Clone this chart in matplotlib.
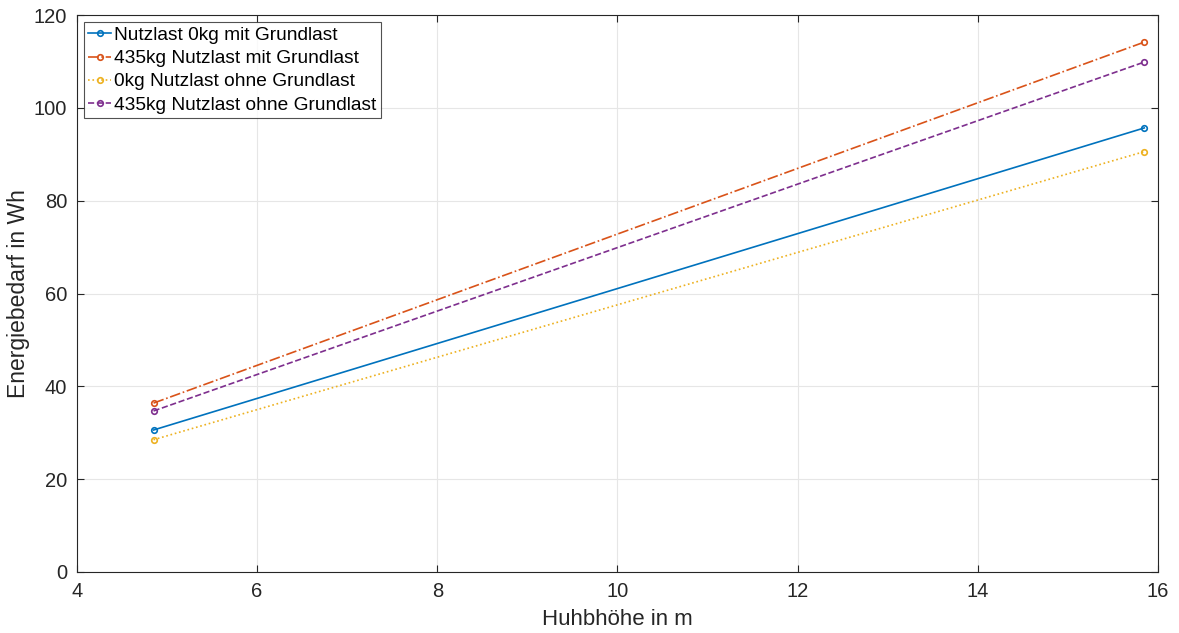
import numpy as np
import matplotlib.pyplot as plt

plt.rcParams['font.family'] = ['Liberation Sans', 'DejaVu Sans']

hoehe = [4.85, 15.85]
leer_mit = [30.6, 95.7]
voll_mit = [36.4, 114.2]
leer_ohne = [28.5, 90.6]
voll_ohne = [34.7, 109.9]

labels = ["Nutzlast 0kg mit Grundlast", "435kg Nutzlast mit Grundlast",
          "0kg Nutzlast ohne Grundlast", "435kg Nutzlast ohne Grundlast"]
colors = ["#0072BD", "#D95319", "#EDB120", "#7E2F8E"]
styles = ["-", "-.", ":", "--"]

fig = plt.figure(figsize=(11.79, 6.33), dpi=100)
ax = fig.add_axes([0.0653, 0.0964, 0.9167, 0.8796])

for y, lab, c, ls in zip([leer_mit, voll_mit, leer_ohne, voll_ohne], labels, colors, styles):
    ax.plot(hoehe, y, color=c, linestyle=ls, linewidth=1.2, marker='o',
            markersize=4, markerfacecolor='none', markeredgewidth=1.2, label=lab)

ax.set_xlim(4, 16)
ax.set_ylim(0, 120)
ax.set_xticks(np.arange(4, 17, 2))
ax.set_yticks(np.arange(0, 121, 20))
ax.grid(True, color='#e6e6e6', linewidth=0.8)
ax.set_axisbelow(True)
ax.tick_params(direction='in', labelsize=14.5, colors='#262626', length=5, pad=7,
               top=True, right=True, labeltop=False, labelright=False)
for s in ax.spines.values():
    s.set_color('#262626')
    s.set_linewidth(0.8)

ax.set_xlabel("Huhbhöhe in m", fontsize=16, color='#262626', labelpad=6)
ax.set_ylabel("Energiebedarf in Wh", fontsize=16.5, color='#262626', labelpad=3)

leg = ax.legend(loc='upper left', fontsize=13.8, frameon=True, fancybox=False,
                handlelength=1.2, handletextpad=0.15, borderpad=0.25, labelspacing=0.3,
                borderaxespad=0.35)
leg.get_frame().set_edgecolor('#262626')
leg.get_frame().set_linewidth(0.8)

fig.savefig("out.png", dpi=100)
